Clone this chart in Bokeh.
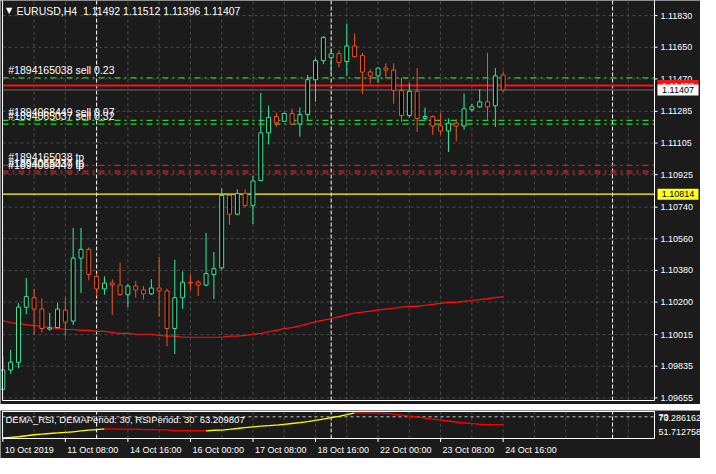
from bokeh.plotting import figure
from bokeh.models import ColumnDataSource, Range1d
from bokeh.layouts import column
from bokeh.core.properties import value
from bokeh.embed import file_html
from bokeh.resources import INLINE

# ---------------- data ----------------
symbol = "EURUSD,H4"
opens = [1.09704, 1.09814, 1.09857, 1.10171, 1.10225, 1.10160, 1.10046, 1.10055, 1.10154, 1.10092,
         1.10450, 1.10500, 1.10346, 1.10275, 1.10308, 1.10297, 1.10242, 1.10291, 1.10269, 1.10247,
         1.10280, 1.10264, 1.10050, 1.10225, 1.10313, 1.10313, 1.10297, 1.10357, 1.10395, 1.10807,
         1.10700, 1.10818, 1.10750, 1.10892, 1.11163, 1.11256, 1.11229, 1.11273, 1.11213, 1.11267,
         1.11465, 1.11574, 1.11591, 1.11613, 1.11569, 1.11657, 1.11602, 1.11509, 1.11487, 1.11531,
         1.11520, 1.11404, 1.11262, 1.11399, 1.11245, 1.11256, 1.11202, 1.11174, 1.11218, 1.11202,
         1.11295, 1.11311, 1.11339, 1.11317, 1.11492]
highs = [1.09893, 1.09929, 1.10194, 1.10337, 1.10276, 1.10222, 1.10139, 1.10194, 1.10227, 1.10622,
         1.10622, 1.10511, 1.10364, 1.10346, 1.10330, 1.10425, 1.10302, 1.10320, 1.10291, 1.10330,
         1.10457, 1.10276, 1.10441, 1.10375, 1.10357, 1.10324, 1.10594, 1.10485, 1.10847, 1.10814,
         1.10841, 1.10841, 1.10920, 1.11390, 1.11318, 1.11278, 1.11278, 1.11300, 1.11307, 1.11492,
         1.11587, 1.11713, 1.11642, 1.11631, 1.11785, 1.11728, 1.11618, 1.11525, 1.11535, 1.11558,
         1.11558, 1.11476, 1.11448, 1.11531, 1.11306, 1.11262, 1.11278, 1.11245, 1.11240, 1.11388,
         1.11328, 1.11410, 1.11618, 1.11531, 1.11512]
lows = [1.09695, 1.09791, 1.09823, 1.10130, 1.10015, 1.10026, 1.10037, 1.10052, 1.10004, 1.10070,
        1.10251, 1.10324, 1.10234, 1.10242, 1.10125, 1.10236, 1.10171, 1.10225, 1.10214, 1.10241,
        1.10116, 1.09949, 1.09905, 1.10161, 1.10267, 1.10234, 1.10289, 1.10218, 1.10381, 1.10640,
        1.10695, 1.10739, 1.10644, 1.10888, 1.11097, 1.11196, 1.11225, 1.11207, 1.11141, 1.11234,
        1.11340, 1.11553, 1.11498, 1.11536, 1.11487, 1.11591, 1.11383, 1.11443, 1.11448, 1.11470,
        1.11328, 1.11224, 1.11251, 1.11169, 1.11229, 1.11152, 1.11152, 1.11054, 1.11114, 1.11180,
        1.11284, 1.11305, 1.11234, 1.11196, 1.11396]
closes = [1.09814, 1.09858, 1.10171, 1.10231, 1.10160, 1.10050, 1.10053, 1.10160, 1.10086, 1.10450,
          1.10500, 1.10357, 1.10275, 1.10308, 1.10297, 1.10242, 1.10291, 1.10269, 1.10247, 1.10280,
          1.10264, 1.10050, 1.10225, 1.10313, 1.10308, 1.10297, 1.10362, 1.10390, 1.10807, 1.10700,
          1.10818, 1.10750, 1.10889, 1.11163, 1.11251, 1.11221, 1.11273, 1.11213, 1.11267, 1.11465,
          1.11574, 1.11706, 1.11613, 1.11564, 1.11657, 1.11596, 1.11509, 1.11487, 1.11531, 1.11520,
          1.11404, 1.11262, 1.11399, 1.11245, 1.11256, 1.11202, 1.11174, 1.11218, 1.11202, 1.11300,
          1.11311, 1.11339, 1.11311, 1.11487, 1.11407]
ma_values = [1.10094, 1.10083, 1.10077, 1.10072, 1.10066, 1.10061, 1.10055, 1.10050, 1.10044, 1.10044,
             1.10039, 1.10039, 1.10033, 1.10033, 1.10028, 1.10022, 1.10022, 1.10017, 1.10017, 1.10017,
             1.10011, 1.10006, 1.10006, 1.10000, 1.10000, 1.10000, 1.10000, 1.10000, 1.10000, 1.10006,
             1.10006, 1.10011, 1.10017, 1.10022, 1.10031, 1.10039, 1.10049, 1.10055, 1.10065, 1.10076,
             1.10087, 1.10097, 1.10105, 1.10116, 1.10127, 1.10138, 1.10143, 1.10149, 1.10154, 1.10160,
             1.10165, 1.10171, 1.10176, 1.10176, 1.10182, 1.10187, 1.10193, 1.10198, 1.10198, 1.10204,
             1.10209, 1.10214, 1.10220, 1.10225, 1.10231]
dema_rsi = [51.71, 52.20, 52.81, 53.66, 54.51, 55.10, 55.60, 56.20, 56.60, 57.04,
            57.89, 58.50, 58.90, 59.58, 59.50, 59.45, 59.40, 59.35, 58.90, 58.85,
            58.80, 58.75, 58.10, 58.05, 58.00, 57.95, 57.90, 58.40, 58.50, 59.20,
            59.90, 60.60, 61.30, 61.90, 62.40, 62.90, 63.50, 64.20, 65.00, 65.90,
            66.90, 68.00, 69.20, 70.40, 71.80, 73.29, 73.20, 73.15, 73.10, 72.90,
            72.27, 71.42, 70.58, 70.00, 68.90, 68.04, 67.19, 66.35, 65.50, 64.66,
            64.40, 63.40, 63.30, 63.25, 63.21]
rsi_max_label = "73.286162"
rsi_min_label = "51.712758"
rsi_last_label = "63.209807"
rsi_level = 70

price_ticks = [1.11830, 1.11650, 1.11470, 1.11285, 1.11105, 1.10925, 1.10740,
               1.10560, 1.10380, 1.10200, 1.10015, 1.09835, 1.09655]
time_ticks = [0, 8, 16, 24, 32, 40, 48, 56, 64]
time_labels = ["10 Oct 2019", "11 Oct 08:00", "14 Oct 16:00", "16 Oct 00:00", "17 Oct 08:00",
               "18 Oct 16:00", "22 Oct 00:00", "23 Oct 08:00", "24 Oct 16:00"]
period_separators = [12, 42, 78]
grid_x = list(range(0, 84, 4))

sell_levels = [1.11476, 1.11234, 1.11213]
sell_texts = ["#1894165038 sell 0.23", "#1894068449 sell 0.07", "#1894065037 sell 0.32"]
tp_levels = [1.10978, 1.10945, 1.10934]
tp_texts = ["#1894165038 tp", "#1894065037 tp", "#1894068449 tp"]
ask_price = 1.11432
bid_price = 1.11407
hline_price = 1.10814

# ---------------- style / geometry ----------------
BG = "#1b1b1b"
GRID = "#4c4c4c"
UP = "#33ec9c"
DOWN = "#f2541e"
FONT = "Liberation Sans"
FS = "9px"
W = 700
PX_K = 652 / 83.4            # pixels per bar index
XL, XR = -0.04, 83.36        # chart window left / right border (bar index units)
xr = Range1d(XL - 2 / PX_K, XR + 46 / PX_K)

# main window: price at top border / bottom border
P_TOP, P_BOT = 1.11916, 1.09640
PPX = (P_TOP - P_BOT) / 400.0
# indicator window
R_TOP, R_BOT = 74.55, 51.29
RPX = (R_TOP - R_BOT) / 27.0


def make_fig(h, yr):
    f = figure(width=W, height=h, x_range=xr, y_range=yr, output_backend="svg",
               toolbar_location=None, tools="", x_axis_location=None, y_axis_location=None,
               min_border=0, background_fill_color=BG, border_fill_color=BG,
               outline_line_color=None)
    f.grid.visible = False
    return f


def txt(f, x, y, s, color="white", align="left", baseline="middle", yoff=0, size=FS):
    f.text(x=[x], y=[y], text=[s], text_font=value(FONT), text_font_size=size,
           text_color=color, text_align=align, text_baseline=baseline, y_offset=yoff)


n = len(opens)
xs = list(range(n))
colors = [UP if c >= o else DOWN for o, c in zip(opens, closes)]
src = ColumnDataSource(dict(x=xs, o=opens, h=highs, l=lows, c=closes,
                            top=[max(o, c) for o, c in zip(opens, closes)],
                            bottom=[min(o, c) for o, c in zip(opens, closes)],
                            color=colors, ma=ma_values))

# ---------------- main chart ----------------
p = make_fig(404, Range1d(P_BOT - 4 * PPX, P_TOP))
# grid
p.segment(x0=grid_x, y0=[P_BOT] * len(grid_x), x1=grid_x, y1=[P_TOP] * len(grid_x),
          line_color=GRID, line_dash="3 3", line_width=1)
p.segment(x0=[XL] * len(price_ticks), y0=price_ticks, x1=[XR] * len(price_ticks), y1=price_ticks,
          line_color=GRID, line_dash="3 3", line_width=1)
p.segment(x0=period_separators, y0=[P_BOT] * 3, x1=period_separators, y1=[P_TOP] * 3,
          line_color="white", line_dash="4 2", line_width=1)

# order / price lines
p.segment(x0=[XL] * 3, y0=sell_levels, x1=[XR] * 3, y1=sell_levels, line_color="#2fcf2f",
          line_dash="6 4 2 4", line_width=1.3)
p.segment(x0=[XL] * 3, y0=tp_levels, x1=[XR] * 3, y1=tp_levels, line_color="#e01818",
          line_dash="6 4 2 4", line_width=1.3)
p.segment(x0=[XL], y0=[bid_price], x1=[XR], y1=[bid_price], line_color="#6e6e6e", line_width=1)
p.segment(x0=[XL], y0=[ask_price], x1=[XR], y1=[ask_price], line_color="#ff1010", line_width=2)
p.segment(x0=[XL], y0=[hline_price], x1=[XR], y1=[hline_price], line_color="#ffff20",
          line_width=1.2)

# moving average
p.line("x", "ma", source=src, line_color="#ff1010", line_width=1.2)

# candles
p.segment(x0="x", y0="l", x1="x", y1="h", line_color="color", line_width=1, source=src)
p.vbar(x="x", top="top", bottom="bottom", width=0.5, fill_color="#000000", line_color="color",
       line_width=1, source=src)

# window border (left, right, bottom)
p.line(x=[XL, XL, XR, XR], y=[P_TOP + PPX, P_BOT, P_BOT, P_TOP + PPX], line_color="white",
       line_width=1)

# price scale: ticks and labels
p.segment(x0=[XR] * len(price_ticks), y0=price_ticks, x1=[XR + 3 / PX_K] * len(price_ticks),
          y1=price_ticks, line_color="white", line_width=1)
for t in price_ticks:
    txt(p, XR + 6 / PX_K, t, "%.5f" % t)

# order labels
for lv, t in zip(sell_levels + tp_levels, sell_texts + tp_texts):
    txt(p, 0.7, lv, t, baseline="bottom", yoff=-2, size="10.5px")

# header
p.text(x=[0.4], y=[P_TOP - 10 * PPX], text=["\u25bc"], text_font=value("DejaVu Sans"),
       text_font_size="8px", text_color="white", text_baseline="middle")
header = "%s\u00a0 %.5f %.5f %.5f %.5f" % (symbol, opens[-1], highs[-1], lows[-1], closes[-1])
txt(p, 1.75, P_TOP - 10 * PPX, header, size="10.5px")

# price boxes on the scale
box_cx = XR + 3 / PX_K + 20.5 / PX_K
box_w = 41 / PX_K
box_h = 11 * PPX
for price, bg, fg in [(ask_price, "#ff1010", "white"), (bid_price, "white", "black"),
                      (hline_price, "#ffff20", "black")]:
    p.rect(x=[box_cx], y=[price], width=[box_w], height=[box_h], fill_color=bg, line_color=None)
    txt(p, box_cx, price, "%.5f" % price, color=fg, align="center")

# ---------------- empty sub-window ----------------
e = make_fig(6, Range1d(0, 6))
e.line(x=[XL, XR, XR, XL, XL], y=[5, 5, 1, 1, 5], line_color="white", line_width=1)

# ---------------- indicator ----------------
q = make_fig(48, Range1d(R_BOT - 20 * RPX, R_TOP + RPX))
q.segment(x0=grid_x, y0=[R_BOT] * len(grid_x), x1=grid_x, y1=[R_TOP] * len(grid_x),
          line_color=GRID, line_dash="3 3", line_width=1)
q.segment(x0=period_separators, y0=[R_BOT] * 3, x1=period_separators, y1=[R_TOP] * 3,
          line_color="white", line_dash="4 2", line_width=1)
q.segment(x0=[XL], y0=[rsi_level], x1=[XR], y1=[rsi_level], line_color="#c8c8c8",
          line_dash="3 3", line_width=1)
seg_col = ["#ffff00" if b >= a else "#ff0000" for a, b in zip(dema_rsi[:-1], dema_rsi[1:])]
q.segment(x0=xs[:-1], y0=dema_rsi[:-1], x1=xs[1:], y1=dema_rsi[1:], line_color=seg_col,
          line_width=1.3)
txt(q, 0.34, R_TOP - 7.5 * RPX,
    "DEMA_RSI, DEMAPeriod: 30, RSIPeriod: 30\u00a0 " + rsi_last_label, size="9.5px")
q.line(x=[XL, XR, XR, XL, XL], y=[R_TOP, R_TOP, R_BOT, R_BOT, R_TOP], line_color="white",
       line_width=1)
# right scale labels
txt(q, XR + 4 / PX_K, R_TOP - 6.5 * RPX, rsi_max_label)
txt(q, XR + 4 / PX_K, rsi_level, str(rsi_level))
txt(q, XR + 4 / PX_K, R_BOT + 6.5 * RPX, rsi_min_label)
# time scale
q.segment(x0=time_ticks, y0=[R_BOT] * len(time_ticks), x1=time_ticks,
          y1=[R_BOT - 3.5 * RPX] * len(time_ticks), line_color="white", line_width=1)
for t, s in zip(time_ticks, time_labels):
    txt(q, t + 2 / PX_K, R_BOT - 11 * RPX, s)

layout = column(p, e, q, spacing=0)
open("out.html", "w").write(file_html(layout, INLINE))
